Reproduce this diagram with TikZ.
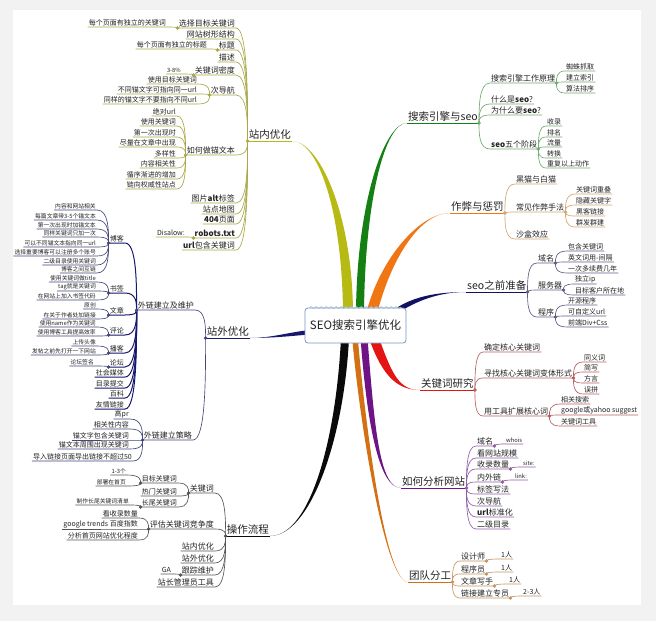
\documentclass[tikz,border=0pt]{standalone}
\usepackage{fontspec}
\setmainfont{Noto Sans CJK SC}
\usetikzlibrary{calc, decorations.pathmorphing}

\definecolor{bggray}{RGB}{242,242,242}
\definecolor{inkc}{RGB}{35,35,35}
\definecolor{boxline}{RGB}{120,150,190}
\definecolor{cZn}{RGB}{182,186,18}
\definecolor{cZnL}{RGB}{168,168,70}
\definecolor{cSs}{RGB}{20,128,20}
\definecolor{cSsL}{RGB}{115,170,115}
\definecolor{cZb}{RGB}{240,118,20}
\definecolor{cZbL}{RGB}{212,165,115}
\definecolor{cPre}{RGB}{18,18,100}
\definecolor{cPreL}{RGB}{95,95,135}
\definecolor{cKw}{RGB}{226,20,20}
\definecolor{cKwL}{RGB}{185,95,95}
\definecolor{cFx}{RGB}{110,20,135}
\definecolor{cFxL}{RGB}{145,95,165}
\definecolor{cTd}{RGB}{212,112,20}
\definecolor{cTdL}{RGB}{200,150,100}
\definecolor{cCz}{RGB}{10,10,10}
\definecolor{cCzL}{RGB}{85,85,85}
\definecolor{cZw}{RGB}{24,24,110}
\definecolor{cZwL}{RGB}{70,70,125}

% right-hand branch: parent end -> child start, then child underline
\newcommand{\rbr}[3]{\draw[br,#1] (#2.south east) .. controls ($(#2.south east)!0.4!(#2.south east |- #3.south west)$) and (#2.south east |- #3.south west) .. (#3.south west) -- (#3.south east);}
% left-hand branch
\newcommand{\lbr}[3]{\draw[br,#1] (#2.south west) .. controls ($(#2.south west)!0.4!(#2.south west |- #3.south east)$) and (#2.south west |- #3.south east) .. (#3.south east) -- (#3.south west);}
\newcommand{\rdot}[2]{\draw[jdot,#1] (#2.south east) circle (1.5pt);}
\newcommand{\ldot}[2]{\draw[jdot,#1] (#2.south west) circle (1.5pt);}
% tapered main branch: colour, start, c1, c2, end, half width
\newcommand{\trunk}[6]{\fill[#1] ($#2+#6$) .. controls ($#3+#6$) and #4 .. #5 .. controls #4 and ($#3-#6$) .. ($#2-#6$) -- cycle;}

\begin{document}
\begin{tikzpicture}[x=1pt, y=-1pt,
        every node/.style={inner sep=1pt, text=inkc},
        rootbox/.style={draw=boxline, fill=white, rounded corners=3pt, line width=0.8pt,
            minimum width=101pt, minimum height=35pt, font=\fontsize{11.5}{13}\selectfont},
        topic/.style={font=\fontsize{10.5}{12}\selectfont},
        sub/.style={font=\fontsize{8}{9}\selectfont},
        leaf/.style={font=\fontsize{7}{8}\selectfont},
        wee/.style={font=\fontsize{5.8}{7}\selectfont},
        toR/.style={anchor=south west},
        toL/.style={anchor=south east},
        br/.style={line width=0.65pt},
        spine/.style={line width=1pt},
        jdot/.style={fill=white, line width=0.5pt}
    ]
    % ---- page ----
    \fill[bggray] (0,0) rectangle (656,621);
    \fill[white] (13,10) rectangle (641,605);
    \useasboundingbox (0,0) rectangle (656,621);

    % ---- main topics ----
    \node[topic,toL] (zn)  at (292,141) {站内优化};
    \node[topic,toR] (ss)  at (407,123) {搜索引擎与seo};
    \node[topic,toR] (zb)  at (450,213) {作弊与惩罚};
    \node[topic,toR] (pre) at (466,292) {seo之前准备};
    \node[topic,toR] (kw)  at (420,390) {关键词研究};
    \node[topic,toR] (fx)  at (401,488) {如何分析网站};
    \node[topic,toR] (td)  at (408,582) {团队分工};
    \node[topic,toL] (cz)  at (270,536) {操作流程};
    \node[topic,toL] (zw)  at (250,338) {站外优化};

    % ---- tapered branches out of the root ----
    \coordinate (t1) at (348,312);
    \coordinate (t2) at (360,312);
    \coordinate (t3) at (372,312);
    \coordinate (t4) at (395,312);
    \coordinate (t5) at (374,338);
    \coordinate (t6) at (364,338);
    \coordinate (t7) at (355,338);
    \coordinate (t8) at (345,338);
    \coordinate (t9) at (312,332);
    \trunk{cZn}{(t1)}{(347,210)}{(318,141)}{(zn.south east)}{(5,0)}
    \trunk{cSs}{(t2)}{(361,200)}{(385,123)}{(ss.south west)}{(4,0)}
    \trunk{cZb}{(t3)}{(386,258)}{(420,213)}{(zb.south west)}{(5.5,0)}
    \trunk{cPre}{(t4)}{(415,298)}{(440,292)}{(pre.south west)}{(0.8,2.5)}
    \trunk{cKw}{(t5)}{(388,378)}{(400,390)}{(kw.south west)}{(4.5,-1.5)}
    \trunk{cFx}{(t6)}{(371,430)}{(380,488)}{(fx.south west)}{(3.5,0)}
    \trunk{cTd}{(t7)}{(362,420)}{(385,582)}{(td.south west)}{(2.8,0)}
    \trunk{cCz}{(t8)}{(340,440)}{(310,536)}{(cz.south east)}{(4,0)}
    \trunk{cZw}{(t9)}{(290,334)}{(272,338)}{(zw.south east)}{(0,2.2)}
    \draw[cZn, line width=0.9pt] (zn.south west) -- (zn.south east);
    \draw[cSs, line width=0.9pt] (ss.south west) -- (ss.south east);
    \draw[cZb, line width=0.9pt] (zb.south west) -- (zb.south east);
    \draw[cPre, line width=0.9pt] (pre.south west) -- (pre.south east);
    \draw[cKw, line width=0.9pt] (kw.south west) -- (kw.south east);
    \draw[cFx, line width=0.9pt] (fx.south west) -- (fx.south east);
    \draw[cTd, line width=0.9pt] (td.south west) -- (td.south east);
    \draw[cCz, line width=0.9pt] (cz.south west) -- (cz.south east);
    \draw[cZw, line width=0.9pt] (zw.south west) -- (zw.south east);

    % ---- root ----
    \node[rootbox] (root) at (355.5,325.5) {SEO搜索引擎优化};
    \draw[boxline!60, line width=1pt, decorate, decoration={snake, amplitude=0.8pt, segment length=5pt}]
        ($(root.north west)+(5,0)$) -- ($(root.north east)+(-5,0)$);

    % ---- 搜索引擎与seo ----
    \node[sub,toR] (ss1) at (490,83) {搜索引擎工作原理};
    \node[leaf,toR] (ss1a) at (565,71) {蜘蛛抓取};
    \node[leaf,toR] (ss1b) at (565,82) {建立索引};
    \node[leaf,toR] (ss1c) at (565,93) {算法排序};
    \node[sub,toR] (ss2) at (490,104) {什么是\textbf{seo}?};
    \node[sub,toR] (ss3) at (490,115) {为什么要\textbf{seo}?};
    \node[sub,toR] (ss4) at (490,149) {\textbf{seo}五个阶段};
    \node[leaf,toR] (ss4a) at (546,126) {收录};
    \node[leaf,toR] (ss4b) at (546,137) {排名};
    \node[leaf,toR] (ss4c) at (546,147) {流量};
    \node[leaf,toR] (ss4d) at (546,158) {转换};
    \node[leaf,toR] (ss4e) at (546,168) {重复以上动作};
    \rbr{cSsL}{ss}{ss1} \rbr{cSsL}{ss}{ss2} \rbr{cSsL}{ss}{ss3} \rbr{cSsL}{ss}{ss4}
    \rbr{cSsL}{ss1}{ss1a} \rbr{cSsL}{ss1}{ss1b} \rbr{cSsL}{ss1}{ss1c}
    \rbr{cSsL}{ss4}{ss4a} \rbr{cSsL}{ss4}{ss4b} \rbr{cSsL}{ss4}{ss4c}
    \rbr{cSsL}{ss4}{ss4d} \rbr{cSsL}{ss4}{ss4e}
    \rdot{cSsL}{ss} \rdot{cSsL}{ss1} \rdot{cSsL}{ss4}

    % ---- 作弊与惩罚 ----
    \node[sub,toR] (zb1) at (515,184) {黑猫与白猫};
    \node[sub,toR] (zb2) at (515,212) {常见作弊手法};
    \node[leaf,toR] (zb2a) at (575,194) {关键词重叠};
    \node[leaf,toR] (zb2b) at (575,205) {隐藏关键字};
    \node[leaf,toR] (zb2c) at (575,216) {黑客链接};
    \node[leaf,toR] (zb2d) at (575,227) {群发群建};
    \node[sub,toR] (zb3) at (515,239) {沙盒效应};
    \rbr{cZbL}{zb}{zb1} \rbr{cZbL}{zb}{zb2} \rbr{cZbL}{zb}{zb3}
    \rbr{cZbL}{zb2}{zb2a} \rbr{cZbL}{zb2}{zb2b} \rbr{cZbL}{zb2}{zb2c} \rbr{cZbL}{zb2}{zb2d}
    \rdot{cZbL}{zb} \rdot{cZbL}{zb2}

    % ---- seo之前准备 ----
    \node[sub,toR] (pre1) at (537,263) {域名};
    \node[leaf,toR] (pre1a) at (567,251) {包含关键词};
    \node[leaf,toR] (pre1b) at (567,262) {英文词用-间隔};
    \node[leaf,toR] (pre1c) at (567,273) {一次多续费几年};
    \node[sub,toR] (pre2) at (537,290) {服务器};
    \node[leaf,toR] (pre2a) at (574,284) {独立ip};
    \node[leaf,toR] (pre2b) at (574,295) {目标客户所在地};
    \node[sub,toR] (pre3) at (537,317) {程序};
    \node[leaf,toR] (pre3a) at (567,305) {开源程序};
    \node[leaf,toR] (pre3b) at (567,316) {可自定义url};
    \node[leaf,toR] (pre3c) at (567,327) {前端Div+Css};
    \rbr{cPreL}{pre}{pre1} \rbr{cPreL}{pre}{pre2} \rbr{cPreL}{pre}{pre3}
    \rbr{cPreL}{pre1}{pre1a} \rbr{cPreL}{pre1}{pre1b} \rbr{cPreL}{pre1}{pre1c}
    \rbr{cPreL}{pre2}{pre2a} \rbr{cPreL}{pre2}{pre2b}
    \rbr{cPreL}{pre3}{pre3a} \rbr{cPreL}{pre3}{pre3b} \rbr{cPreL}{pre3}{pre3c}
    \rdot{cPreL}{pre} \rdot{cPreL}{pre1} \rdot{cPreL}{pre2} \rdot{cPreL}{pre3}

    % ---- 关键词研究 ----
    \node[sub,toR] (kw1) at (483,352) {确定核心关键词};
    \node[sub,toR] (kw2) at (483,378) {寻找核心关键词变体形式};
    \node[leaf,toR] (kw2a) at (583,362) {同义词};
    \node[leaf,toR] (kw2b) at (583,372) {简写};
    \node[leaf,toR] (kw2c) at (583,383) {方言};
    \node[leaf,toR] (kw2d) at (583,394) {误拼};
    \node[sub,toR] (kw3) at (483,416) {用工具扩展核心词};
    \node[leaf,toR] (kw3a) at (560,404) {相关搜索};
    \node[leaf,toR] (kw3b) at (560,415) {google或yahoo suggest};
    \node[leaf,toR] (kw3c) at (560,426) {关键词工具};
    \rbr{cKwL}{kw}{kw1} \rbr{cKwL}{kw}{kw2} \rbr{cKwL}{kw}{kw3}
    \rbr{cKwL}{kw2}{kw2a} \rbr{cKwL}{kw2}{kw2b} \rbr{cKwL}{kw2}{kw2c} \rbr{cKwL}{kw2}{kw2d}
    \rbr{cKwL}{kw3}{kw3a} \rbr{cKwL}{kw3}{kw3b} \rbr{cKwL}{kw3}{kw3c}
    \rdot{cKwL}{kw} \rdot{cKwL}{kw2} \rdot{cKwL}{kw3}

    % ---- 如何分析网站 ----
    \node[sub,toR] (fx1) at (476,446) {域名};
    \node[wee,toR] (fx1a) at (505,444) {whois};
    \node[sub,toR] (fx2) at (476,458) {看网站规模};
    \node[sub,toR] (fx3) at (476,469) {收录数量};
    \node[wee,toR] (fx3a) at (522,467) {site:};
    \node[sub,toR] (fx4) at (476,482) {内外链};
    \node[wee,toR] (fx4a) at (514,480) {link:};
    \node[sub,toR] (fx5) at (476,494) {标签写法};
    \node[sub,toR] (fx6) at (476,506) {次导航};
    \node[sub,toR] (fx7) at (476,517) {\textbf{url}标准化};
    \node[sub,toR] (fx8) at (476,529) {二级目录};
    \rbr{cFxL}{fx}{fx1} \rbr{cFxL}{fx}{fx2} \rbr{cFxL}{fx}{fx3} \rbr{cFxL}{fx}{fx4}
    \rbr{cFxL}{fx}{fx5} \rbr{cFxL}{fx}{fx6} \rbr{cFxL}{fx}{fx7} \rbr{cFxL}{fx}{fx8}
    \rbr{cFxL}{fx1}{fx1a} \rbr{cFxL}{fx3}{fx3a} \rbr{cFxL}{fx4}{fx4a}
    \rdot{cFxL}{fx} \rdot{cFxL}{fx1} \rdot{cFxL}{fx3} \rdot{cFxL}{fx4}

    % ---- 团队分工 ----
    \node[sub,toR] (td1) at (460,561) {设计师};
    \node[leaf,toR] (td1a) at (500,559) {1人};
    \node[sub,toR] (td2) at (460,574) {程序员};
    \node[leaf,toR] (td2a) at (500,572) {1人};
    \node[sub,toR] (td3) at (460,586) {文章写手};
    \node[leaf,toR] (td3a) at (508,584) {1人};
    \node[sub,toR] (td4) at (460,598) {链接建立专员};
    \node[leaf,toR] (td4a) at (522,596) {2-3人};
    \rbr{cTdL}{td}{td1} \rbr{cTdL}{td}{td2} \rbr{cTdL}{td}{td3} \rbr{cTdL}{td}{td4}
    \rbr{cTdL}{td1}{td1a} \rbr{cTdL}{td2}{td2a} \rbr{cTdL}{td3}{td3a} \rbr{cTdL}{td4}{td4a}
    \rdot{cTdL}{td} \rdot{cTdL}{td1} \rdot{cTdL}{td2} \rdot{cTdL}{td3} \rdot{cTdL}{td4}

    % ---- 站内优化 ----
    \node[sub,toL] (zn1) at (236,28) {选择目标关键词};
    \node[leaf,toL] (zn1a) at (167,27) {每个页面有独立的关键词};
    \node[sub,toL] (zn2) at (236,39) {网站树形结构};
    \node[sub,toL] (zn3) at (236,50) {标题};
    \node[leaf,toL] (zn3a) at (208,49) {每个页面有独立的标题};
    \node[sub,toL] (zn4) at (236,62) {描述};
    \node[sub,toL] (zn5) at (236,75) {关键词密度};
    \node[wee,toL] (zn5a) at (182,74) {3-8\%};
    \node[sub,toL] (zn6) at (236,95) {次导航};
    \node[leaf,toL] (zn6a) at (198,84) {使用目标关键词};
    \node[leaf,toL] (zn6b) at (198,94) {不同锚文字可指向同一url};
    \node[leaf,toL] (zn6c) at (198,104) {同样的锚文字不要指向不同url};
    \node[sub,toL] (zn7) at (236,155) {如何做锚文本};
    \node[leaf,toL] (zn7a) at (177,116) {绝对url};
    \node[leaf,toL] (zn7b) at (177,126) {使用关键词};
    \node[leaf,toL] (zn7c) at (177,137) {第一次出现时};
    \node[leaf,toL] (zn7d) at (177,147) {尽量在文章中出现};
    \node[leaf,toL] (zn7e) at (177,158) {多样性};
    \node[leaf,toL] (zn7f) at (177,168) {内容相关性};
    \node[leaf,toL] (zn7g) at (177,179) {循序渐进的增加};
    \node[leaf,toL] (zn7h) at (177,189) {链向权威性站点};
    \node[sub,toL] (zn8) at (236,203) {图片\textbf{alt}标签};
    \node[sub,toL] (zn9) at (236,214) {站点地图};
    \node[sub,toL] (zn10) at (236,224) {\textbf{404}页面};
    \node[sub,toL] (zn11) at (236,238) {\textbf{robots.txt}};
    \node[leaf,toL] (zn11a) at (186,237) {Disalow:};
    \node[sub,toL] (zn12) at (236,250) {\textbf{url}包含关键词};
    \lbr{cZnL}{zn}{zn1} \lbr{cZnL}{zn}{zn2} \lbr{cZnL}{zn}{zn3} \lbr{cZnL}{zn}{zn4}
    \lbr{cZnL}{zn}{zn5} \lbr{cZnL}{zn}{zn6} \lbr{cZnL}{zn}{zn7} \lbr{cZnL}{zn}{zn8}
    \lbr{cZnL}{zn}{zn9} \lbr{cZnL}{zn}{zn10} \lbr{cZnL}{zn}{zn11} \lbr{cZnL}{zn}{zn12}
    \lbr{cZnL}{zn1}{zn1a} \lbr{cZnL}{zn3}{zn3a} \lbr{cZnL}{zn5}{zn5a}
    \lbr{cZnL}{zn6}{zn6a} \lbr{cZnL}{zn6}{zn6b} \lbr{cZnL}{zn6}{zn6c}
    \lbr{cZnL}{zn7}{zn7a} \lbr{cZnL}{zn7}{zn7b} \lbr{cZnL}{zn7}{zn7c} \lbr{cZnL}{zn7}{zn7d}
    \lbr{cZnL}{zn7}{zn7e} \lbr{cZnL}{zn7}{zn7f} \lbr{cZnL}{zn7}{zn7g} \lbr{cZnL}{zn7}{zn7h}
    \lbr{cZnL}{zn11}{zn11a}
    \ldot{cZnL}{zn} \ldot{cZnL}{zn1} \ldot{cZnL}{zn3} \ldot{cZnL}{zn5}
    \ldot{cZnL}{zn6} \ldot{cZnL}{zn7} \ldot{cZnL}{zn11}

    % ---- 站外优化 ----
    \node[sub,toL] (zw1) at (195,310) {外链建立及维护};
    \node[leaf,toL] (zw1a) at (125,243) {博客};
    \node[wee,toL] (zw1a1) at (97,210) {内容和网站相关};
    \node[wee,toL] (zw1a2) at (97,220) {每篇文章带3-5个锚文本};
    \node[wee,toL] (zw1a3) at (97,229) {第一次出现时加锚文本};
    \node[wee,toL] (zw1a4) at (97,237) {同样关键词只加一次};
    \node[wee,toL] (zw1a5) at (97,247) {可以不同锚文本指向同一url};
    \node[wee,toL] (zw1a6) at (97,256) {选择重要博客可以注册多个账号};
    \node[wee,toL] (zw1a7) at (97,265) {二级目录使用关键词};
    \node[wee,toL] (zw1a8) at (97,273) {博客之间互链};
    \node[leaf,toL] (zw1b) at (125,293) {书签};
    \node[wee,toL] (zw1b1) at (97,282) {使用关键词做title};
    \node[wee,toL] (zw1b2) at (97,291) {tag就是关键词};
    \node[wee,toL] (zw1b3) at (97,300) {在网站上加入书签代码};
    \node[leaf,toL] (zw1c) at (125,315) {文章};
    \node[wee,toL] (zw1c1) at (97,309) {原创};
    \node[wee,toL] (zw1c2) at (97,319) {在关于作者处加链接};
    \node[leaf,toL] (zw1d) at (125,335) {评论};
    \node[wee,toL] (zw1d1) at (97,327) {使用name作为关键词};
    \node[wee,toL] (zw1d2) at (97,336) {使用博客工具提高效率};
    \node[leaf,toL] (zw1e) at (125,353) {播客};
    \node[wee,toL] (zw1e1) at (97,346) {上传头像};
    \node[wee,toL] (zw1e2) at (97,355) {发帖之前先打开一下网站};
    \node[leaf,toL] (zw1f) at (125,367) {论坛};
    \node[wee,toL] (zw1f1) at (95,366) {论坛签名};
    \node[leaf,toL] (zw1g) at (125,377) {社会媒体};
    \node[leaf,toL] (zw1h) at (125,388) {目录提交};
    \node[leaf,toL] (zw1i) at (125,398) {百科};
    \node[leaf,toL] (zw1j) at (125,409) {友情链接};
    \node[sub,toL] (zw2) at (193,440) {外链建立策略};
    \node[leaf,toL] (zw2a) at (130,419) {高pr};
    \node[leaf,toL] (zw2b) at (130,429) {相关性内容};
    \node[leaf,toL] (zw2c) at (130,440) {锚文字包含关键词};
    \node[leaf,toL] (zw2d) at (130,449) {锚文本周围出现关键词};
    \node[leaf,toL] (zw2e) at (133,461) {导入链接页面导出链接不超过50};
    \lbr{cZwL}{zw}{zw1} \lbr{cZwL}{zw}{zw2}
    \lbr{cZw,spine}{zw1}{zw1a} \lbr{cZw,spine}{zw1}{zw1b} \lbr{cZw,spine}{zw1}{zw1c}
    \lbr{cZw,spine}{zw1}{zw1d} \lbr{cZw,spine}{zw1}{zw1e} \lbr{cZw,spine}{zw1}{zw1f}
    \lbr{cZw,spine}{zw1}{zw1g} \lbr{cZw,spine}{zw1}{zw1h} \lbr{cZw,spine}{zw1}{zw1i}
    \lbr{cZw,spine}{zw1}{zw1j}
    \lbr{cZwL}{zw1a}{zw1a1} \lbr{cZwL}{zw1a}{zw1a2} \lbr{cZwL}{zw1a}{zw1a3} \lbr{cZwL}{zw1a}{zw1a4}
    \lbr{cZwL}{zw1a}{zw1a5} \lbr{cZwL}{zw1a}{zw1a6} \lbr{cZwL}{zw1a}{zw1a7} \lbr{cZwL}{zw1a}{zw1a8}
    \lbr{cZwL}{zw1b}{zw1b1} \lbr{cZwL}{zw1b}{zw1b2} \lbr{cZwL}{zw1b}{zw1b3}
    \lbr{cZwL}{zw1c}{zw1c1} \lbr{cZwL}{zw1c}{zw1c2}
    \lbr{cZwL}{zw1d}{zw1d1} \lbr{cZwL}{zw1d}{zw1d2}
    \lbr{cZwL}{zw1e}{zw1e1} \lbr{cZwL}{zw1e}{zw1e2}
    \lbr{cZwL}{zw1f}{zw1f1}
    \lbr{cZwL}{zw2}{zw2a} \lbr{cZwL}{zw2}{zw2b} \lbr{cZwL}{zw2}{zw2c} \lbr{cZwL}{zw2}{zw2d}
    \lbr{cZwL}{zw2}{zw2e}
    \ldot{cZwL}{zw} \ldot{cZwL}{zw1} \ldot{cZwL}{zw1a} \ldot{cZwL}{zw1b} \ldot{cZwL}{zw1c}
    \ldot{cZwL}{zw1d} \ldot{cZwL}{zw1e} \ldot{cZwL}{zw1f} \ldot{cZwL}{zw2}

    % ---- 操作流程 ----
    \node[sub,toL] (cz1) at (215,493) {关键词};
    \node[leaf,toL] (cz1a) at (178,483) {目标关键词};
    \node[wee,toL] (cz1a1) at (127,475) {1-3个};
    \node[wee,toL] (cz1a2) at (127,486) {部署在首页};
    \node[leaf,toL] (cz1b) at (178,496) {热门关键词};
    \node[leaf,toL] (cz1c) at (178,507) {长尾关键词};
    \node[wee,toL] (cz1c1) at (130,505) {制作长尾关键词清单};
    \node[sub,toL] (cz2) at (215,529) {评估关键词竞争度};
    \node[leaf,toL] (cz2a) at (139,518) {看收录数量};
    \node[leaf,toL] (cz2b) at (139,529) {google trends 百度指数};
    \node[leaf,toL] (cz2c) at (139,540) {分析首页网站优化程度};
    \node[sub,toL] (cz3) at (215,551) {站内优化};
    \node[sub,toL] (cz4) at (215,563) {站外优化};
    \node[sub,toL] (cz5) at (215,575) {跟踪维护};
    \node[leaf,toL] (cz5a) at (172,574) {GA};
    \node[sub,toL] (cz6) at (215,587) {站长管理员工具};
    \lbr{cCzL}{cz}{cz1} \lbr{cCzL}{cz}{cz2} \lbr{cCzL}{cz}{cz3} \lbr{cCzL}{cz}{cz4}
    \lbr{cCzL}{cz}{cz5} \lbr{cCzL}{cz}{cz6}
    \lbr{cCzL}{cz1}{cz1a} \lbr{cCzL}{cz1}{cz1b} \lbr{cCzL}{cz1}{cz1c}
    \lbr{cCzL}{cz1a}{cz1a1} \lbr{cCzL}{cz1a}{cz1a2} \lbr{cCzL}{cz1c}{cz1c1}
    \lbr{cCzL}{cz2}{cz2a} \lbr{cCzL}{cz2}{cz2b} \lbr{cCzL}{cz2}{cz2c}
    \lbr{cCzL}{cz5}{cz5a}
    \ldot{cCzL}{cz} \ldot{cCzL}{cz1} \ldot{cCzL}{cz1a} \ldot{cCzL}{cz1c}
    \ldot{cCzL}{cz2} \ldot{cCzL}{cz5}
\end{tikzpicture}
\end{document}
